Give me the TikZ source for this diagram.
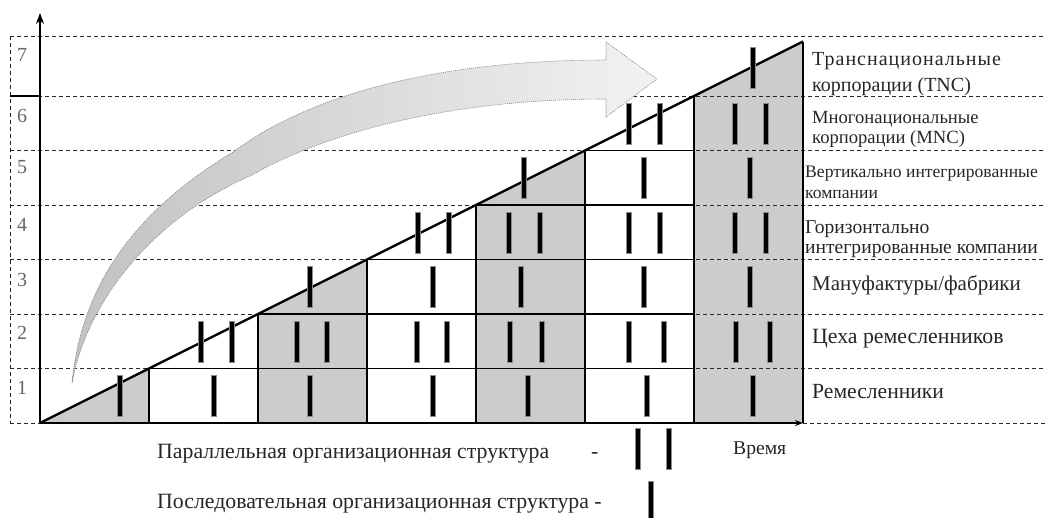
\documentclass[tikz,border=0pt]{standalone}
\usepackage{fontspec}
\setmainfont{Liberation Serif}
\usetikzlibrary{arrows.meta,calc}
\begin{document}
\begin{tikzpicture}[x=1pt,y=-1pt,
  dsh/.style={dash pattern=on 4pt off 3pt, line width=0.9pt, draw=black!85},
  solidln/.style={line width=1.2pt, draw=black},
  colln/.style={line width=1.6pt, draw=black},
  diag/.style={line width=2.4pt, draw=black},
  shadecol/.style={fill=black!20},
  barnode/.style={draw=black!45, line width=0.5pt, fill=black, inner sep=0pt, minimum width=5pt, minimum height=41pt},
  lbl/.style={anchor=base west, inner sep=0pt, font=\fontsize{21.5}{22}\selectfont, text=black!85},
  fs/.style={font=\fontsize{#1}{#1}\selectfont},
  num/.style={inner sep=0pt, font=\fontsize{20}{20}\selectfont, text=black!60},
  bigarrow/.style={left color=black!24, right color=black!5, draw=black!50, line width=0.6pt, dash pattern=on 1pt off 1pt},
]
\path[use as bounding box] (0,0) rectangle (1046,517);
\clip (0,0) rectangle (1046,517);

% grid coordinates
\foreach \k in {0,...,7} {
  \coordinate (c\k) at ({40+109*\k},{423-54.5*\k});
  \coordinate (b\k) at ({40+109*\k},423);
}
\foreach \k in {0,...,6} {
  \coordinate (l\k) at (10,{423-54.5*\k});
  \coordinate (r\k) at (1046,{423-54.5*\k});
}
\coordinate (lt) at (10,36);
\coordinate (rt) at (1046,36);
\coordinate (ytop) at (40,13);

% shaded columns
\fill[shadecol] (b0) -- (b1) -- (c1) -- cycle;
\fill[shadecol] (b2) -- (b3) -- (c3) -- (c2) -- cycle;
\fill[shadecol] (b4) -- (b5) -- (c5) -- (c4) -- cycle;
\fill[shadecol] (b6) -- (b7) -- (c7) -- (c6) -- cycle;

% dashed grid
\draw[dsh] (lt) -- (rt);
\foreach \k in {1,...,6} \draw[dsh] (l\k) -- (r\k);
\draw[dsh] (l0) -- (b0);
\draw[dsh] (b7) -- (r0);
\draw[dsh] (lt) -- (l0);
\draw[solidln] (l6) -- (l6 -| b0);

% solid grid inside staircase
\foreach \k in {1,...,5} \draw[solidln] (c\k) -- (c\k -| b6);
\foreach \k in {1,...,7} \draw[colln] (b\k) -- (c\k);

% axes
\draw[solidln,-{Stealth[length=8pt,width=6pt]}] (b0) -- (b7);
\draw[line width=1.1pt,-{Stealth[length=11pt,width=8pt]}] (b0) -- (ytop);

% diagonal
\draw[diag] (c0) -- (c7);

% bars
\foreach \x/\y [count=\i] in {
  120/396, 214/396, 310/396, 433/396, 528/396, 647/396, 753/396,
  201/341.5, 232/341.5, 297/341.5, 327/341.5, 417/341.5, 447/341.5,
  510/341.5, 542/341.5, 629/341.5, 664/341.5, 736/341.5, 770/341.5,
  310/287, 433/287, 521/287, 644/287, 750/287,
  418/232.5, 449/232.5, 509/232.5, 540/232.5, 629/232.5, 660/232.5, 735/232.5, 766/232.5,
  524/178, 644/178, 750/178,
  629/123.5, 660/123.5, 735/123.5, 766/123.5,
  753/68}
  \node[barnode] (bar\i) at (\x,\y) {};

% big curved arrow
\path[bigarrow]
 (72,383) .. controls (80,300) and (120,220) .. (233,152)
 .. controls (330,80) and (480,60) .. (606,60)
 -- (606,42) -- (657,79) -- (606,117) -- (606,99)
 .. controls (470,99) and (340,125) .. (250,176)
 .. controls (160,215) and (88,295) .. (72,383) -- cycle;

% row numbers
\foreach \n/\y in {1/388,2/333,3/280,4/225,5/167,6/116,7/55}
  \node[num] (n\n) at (22,\y) {\n};

% right labels
\node[lbl,fs=20] (tnc1) at (812,65) {\addfontfeature{LetterSpace=5}Транснациональные};
\node[lbl,fs=20] (tnc2) at (812,91) {корпорации (TNC)};
\node[lbl,fs=18.6] (mnc1) at (812,123) {Многонациональные};
\node[lbl,fs=18.6] (mnc2) at (812,143) {корпорации (MNC)};
\node[lbl,fs=17.6] (vert1) at (805,177) {Вертикально интегрированные};
\node[lbl,fs=17.6] (vert2) at (805,198) {компании};
\node[lbl,fs=19.6] (hor1) at (805,233) {Горизонтально};
\node[lbl,fs=19.6] (hor2) at (805,253) {интегрированные компании};
\node[lbl,fs=21] (manu) at (812,290) {Мануфактуры/фабрики};
\node[lbl,fs=21.8] (ceh) at (812,343) {Цеха ремесленников};
\node[lbl,fs=21.6] (rem) at (812,398) {Ремесленники};

% time label
\node[lbl,fs=19.6] (time) at (733,454) {Время};

% legend
\node[lbl,fs=21.8] (par) at (157,458) {Параллельная организационная структура};
\node[lbl,fs=21.8] (pardash) at (591,458) {-};
\node[barnode] (lbar1) at (638,449) {};
\node[barnode] (lbar2) at (669,449) {};
\node[lbl,fs=21.8] (seq) at (157,508) {Последовательная организационная структура -};
\node[barnode] (lbar3) at (651,502) {};
\end{tikzpicture}
\end{document}
